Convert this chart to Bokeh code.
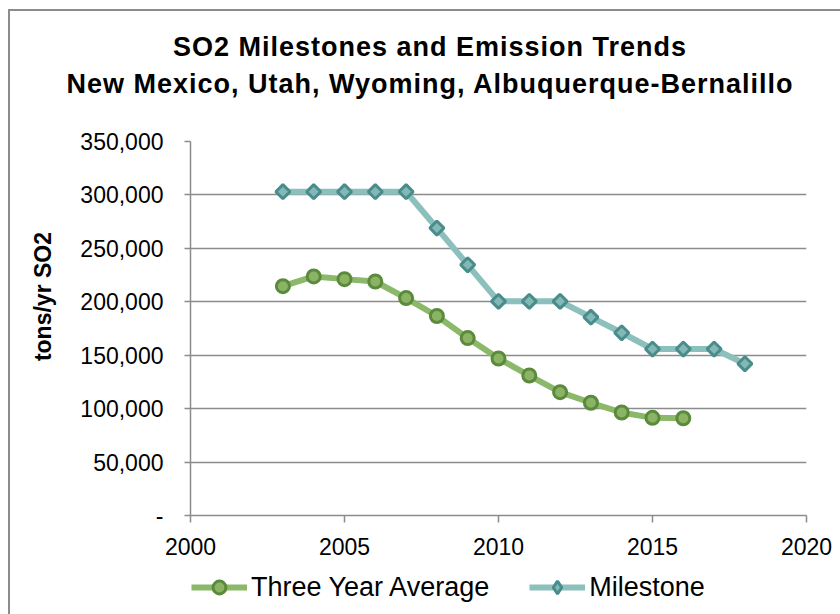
import math
from bokeh.plotting import figure
from bokeh.layouts import column
from bokeh.models import Range1d, Legend, LegendItem, FixedTicker, Div
from bokeh.embed import file_html
from bokeh.resources import INLINE

# ---- data ----
title_line1 = "SO2 Milestones and Emission Trends"
title_line2 = "New Mexico, Utah, Wyoming, Albuquerque-Bernalillo"
y_axis_title = "tons/yr SO2"

avg_years = [2003, 2004, 2005, 2006, 2007, 2008, 2009, 2010, 2011, 2012, 2013, 2014, 2015, 2016]
avg_values = [214600, 223700, 221200, 219000, 203500, 186700, 166000, 146900,
              131000, 115400, 105500, 96400, 91400, 91000]

milestone_years = [2003, 2004, 2005, 2006, 2007, 2008, 2009, 2010, 2011, 2012,
                   2013, 2014, 2015, 2016, 2017, 2018]
milestone_values = [303000, 303000, 303000, 303000, 303000, 269000, 234600, 200400,
                    200400, 200400, 185600, 171000, 155800, 155800, 155800, 142000]

series_names = ["Three Year Average", "Milestone"]

x_ticks = [2000, 2005, 2010, 2015, 2020]
y_ticks = [0, 50000, 100000, 150000, 200000, 250000, 300000, 350000]
y_tick_labels = ["-", "50,000", "100,000", "150,000", "200,000", "250,000", "300,000", "350,000"]

# ---- styles ----
FONT = "Liberation Sans"
GRID = "#8c8c8c"
GREEN_LINE = "#8cb86a"
GREEN_FILL = "#8ab464"
GREEN_EDGE = "#5b8a3c"
TEAL_LINE = "#8cc0bc"
TEAL_FILL = "#82b8b5"
TEAL_EDGE = "#4a8c8c"

W = 830
H_TITLE = 100
H_MAIN = 454
H_LEG = 49

# ---- title block ----
title_div = Div(
    text=('<div style="width:830px;box-sizing:border-box;padding-left:10px;padding-top:18px;'
          'text-align:center;font-family:\'Liberation Sans\';font-size:27px;font-weight:bold;'
          'letter-spacing:1px;line-height:36.6px;color:black;white-space:nowrap;">'
          + title_line1 + '<br>' + title_line2 + '</div>'),
    width=W, height=H_TITLE, margin=0)

# ---- main chart ----
p = figure(width=W, height=H_MAIN, x_range=Range1d(2000, 2020), y_range=Range1d(0, 350000),
           output_backend="svg", toolbar_location=None, title=None,
           min_border_left=180, min_border_right=34, min_border_top=30, min_border_bottom=50)
p.outline_line_color = None
p.background_fill_color = "white"
p.border_fill_color = "white"

p.xgrid.visible = False
p.ygrid.grid_line_color = GRID
p.ygrid.grid_line_width = 1.5
p.ygrid.ticker = FixedTicker(ticks=y_ticks)

p.xaxis.ticker = FixedTicker(ticks=x_ticks)
p.yaxis.ticker = FixedTicker(ticks=y_ticks)
p.yaxis.major_label_overrides = {t: lab for t, lab in zip(y_ticks, y_tick_labels)}
for ax in (p.xaxis[0], p.yaxis[0]):
    ax.axis_line_color = GRID
    ax.axis_line_width = 1.5
    ax.major_tick_line_color = GRID
    ax.major_tick_line_width = 1.5
    ax.major_tick_in = 0
    ax.minor_tick_line_color = None
    ax.major_label_text_font = FONT
    ax.major_label_text_font_size = "23px"
    ax.major_label_text_color = "black"
p.yaxis.major_tick_out = 6
p.yaxis.major_label_standoff = 21
p.xaxis.major_tick_out = 7
p.xaxis.major_label_standoff = 15

# y-axis title: padded with no-break spaces so that it sits above the frame centre
p.yaxis.axis_label = "\u00a0" * 10 + y_axis_title
p.yaxis.axis_label_text_font = FONT
p.yaxis.axis_label_text_font_size = "23px"
p.yaxis.axis_label_text_font_style = "bold"
p.yaxis.axis_label_text_color = "black"
p.yaxis.axis_label_standoff = 21

p.line(avg_years, avg_values, line_color=GREEN_LINE, line_width=6)
p.scatter(avg_years, avg_values, marker="circle", size=13, fill_color=GREEN_FILL,
          line_color=GREEN_EDGE, line_width=3)
p.line(milestone_years, milestone_values, line_color=TEAL_LINE, line_width=6)
p.scatter(milestone_years, milestone_values, marker="square", size=10, angle=math.pi / 4,
          fill_color=TEAL_FILL, line_color=TEAL_EDGE, line_width=3)

# ---- legend strip below the chart (series drawn out of view, only the legend shows) ----
q = figure(width=W, height=H_LEG, x_range=Range1d(2000, 2020), y_range=Range1d(-2, -1),
           output_backend="svg", toolbar_location=None, title=None,
           x_axis_type=None, y_axis_type=None, min_border=0)
q.outline_line_color = None
q.xgrid.visible = False
q.ygrid.visible = False
q.background_fill_color = "white"
q.border_fill_color = "white"
lg1 = q.line(avg_years, avg_values, line_color=GREEN_LINE, line_width=6)
mg1 = q.scatter(avg_years, avg_values, marker="circle", size=13, fill_color=GREEN_FILL,
                line_color=GREEN_EDGE, line_width=3)
lg2 = q.line(milestone_years, milestone_values, line_color=TEAL_LINE, line_width=6)
mg2 = q.scatter(milestone_years, milestone_values, marker="diamond", size=17, fill_color=TEAL_FILL,
                line_color=TEAL_EDGE, line_width=3)
legend = Legend(items=[LegendItem(label=series_names[0], renderers=[lg1, mg1]),
                       LegendItem(label=series_names[1], renderers=[lg2, mg2])],
                orientation="horizontal", location=(1, 11), glyph_width=56, glyph_height=32,
                label_height=32, label_standoff=4, spacing=40, padding=0, margin=0,
                border_line_color=None, background_fill_alpha=0,
                label_text_font=FONT, label_text_font_size="27px", label_text_color="black")
q.add_layout(legend, "center")

layout = column(title_div, p, q, spacing=0)
layout.styles = {"margin-left": "8px", "margin-top": "9px",
                 "border-left": "2px solid #8c8c8c", "border-top": "2px solid #8c8c8c"}

open("out.html", "w").write(file_html(layout, INLINE))
